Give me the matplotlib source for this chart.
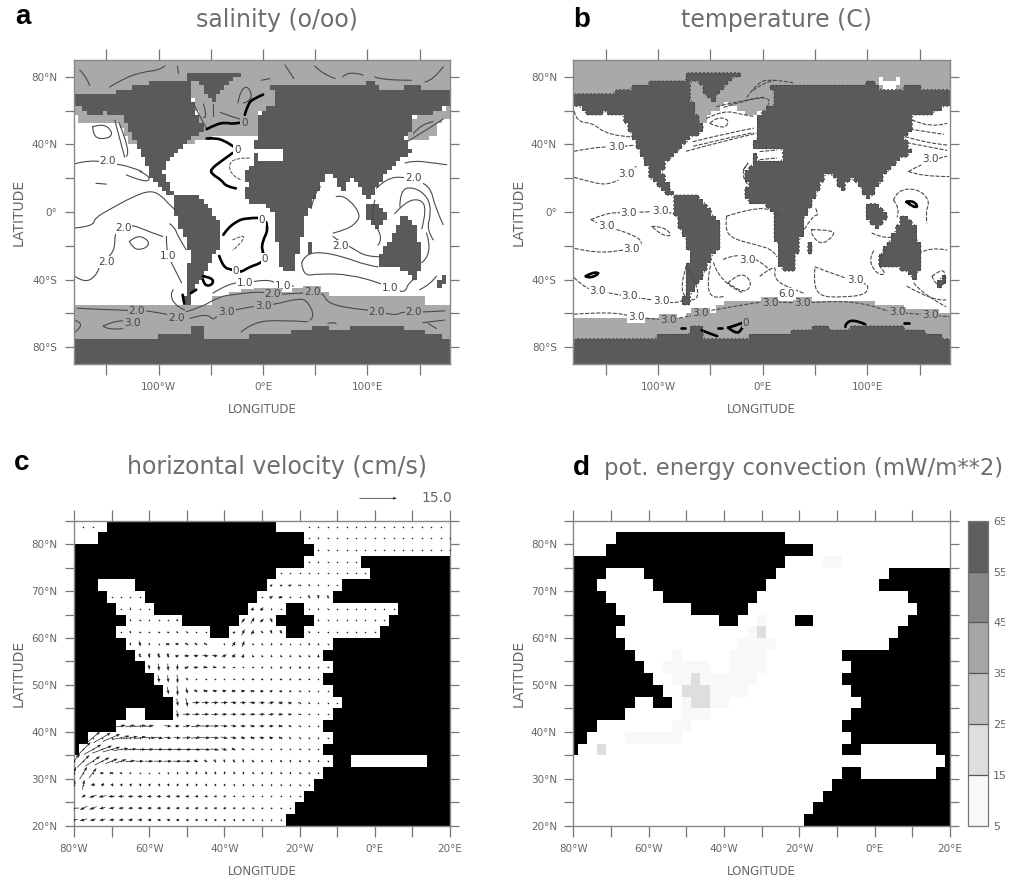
import matplotlib
matplotlib.use("Agg")
import matplotlib.pyplot as plt
import numpy as np
from matplotlib.path import Path
from matplotlib.colors import ListedColormap, BoundaryNorm
from matplotlib.patches import Rectangle, PathPatch

W, H = 1018, 881
DARK = '#5a5a5a'
ICE = '#a9a9a9'
TXT = '#666666'

# ---- world panels: outlines of the model continents (lon, lat)
north_america = [(-181,70),(-147,70),(-140,72),(-125,74),(-110,76),(-99,77),(-70,77),(-70,68),(-64,60),(-56,48.5),
                 (-75,41),(-81,35),(-93,29),(-96,24),(-84,10),(-89,9.5),(-105,18),(-121,41),(-134,57.5),(-145,57.5),
                 (-150,59.5),(-163,56.5),(-169,59.5),(-181,63)]
greenland = [(-72,82),(-24,82),(-18,79),(-30,79),(-48,65),(-52,68),(-60,76),(-72,77)]
eurasia_africa = [(3,75),(97.5,75),(97.5,77),(105,77),(113,72.5),(135,72.5),(135,75),(152,75),(152,72.5),(176,72.5),
                  (179,70),(179,62),(176,62),(160,58.5),(145,56.5),(140.5,46.5),(136,44.5),(142,36),(121,25),(99,5),
                  (97.5,10),(86,21),(77,13),(62,25),(40,-5),(33.5,-24.5),(29,-35),(17.5,-35),(11,-10.5),(13,-2.5),
                  (3,5),(-14,6),(-17.5,12),(-14,15),(-17.5,23),(-8,31),(-9.5,40.5),(-5,45.5),(-6,57.5),(11,64),(11,70)]
south_america = [(-86,10),(-61,9),(-40,-7),(-40,-18.5),(-67,-48),(-70,-55),(-76,-55),(-70,-24),(-85,0)]
indonesia = [(99,5),(110,4),(121,-3),(108.5,-10.5),(97.5,-1)]
australia = [(132.5,-2.5),(137,-3),(147,-8.5),(152,-30),(145,-40),(136,-34),(113,-33),(112,-26.5),(131,-6.5)]
madagascar = [(41.5,-17.5),(46,-17.5),(48,-25.5),(41.5,-25.5)]
new_zealand = [(168,-46),(164,-42),(174,-37),(177,-40)]
antarctica = [(-181,-90),(179,-90),(179,-75),(172,-75),(172,-72.5),(156,-72.5),(156,-70.5),(136,-70.5),(136,-68),(82,-68),
              (82,-70.5),(61,-70.5),(61,-68),(46,-68),(46,-70.5),(29,-70.5),(29,-72.5),(-13,-72.5),(-13,-75),(-59,-75),
              (-59,-68),(-69,-68),(-69,-72.5),(-99,-72.5),(-99,-75),(-181,-75)]
mediterranean = [(-9,37.5),(18.5,37.5),(18.5,30.5),(-4,30.5),(-4,34)]

arctic_ice = [(-181,90),(179,90),(179,69),(-181,69)]
a_ice = [[(-72,76),(18,76),(11,70),(11,64),(-5,58),(-5,44.5),(-48,44.5),(-54,41.5),(-75,41),(-56,48.5)],
         [(-181,63),(-134,58),(-121,41),(-128,41),(-137,53),(-175,53),(-177,57),(-181,57)],
         [(179,62),(144,56),(139,41),(166,45),(166,50),(179,57)],
         [(-181,-55),(-48,-55),(-48,-51),(-32,-51),(-32,-48),(-22,-48),(-22,-45),(54,-45),(54,-48),(62,-48),(62,-50),
          (156,-50),(156,-54),(179,-54),(179,-90),(-181,-90)]]
b_ice = [[(-72,76),(18,76),(11,70),(11,64),(-5,58),(-12,57.5),(-34.5,64.5),(-50,58.5),(-57,50.5),(-64,60),(-72,68)],
         [(-181,-62),(-73,-62),(-73,-60),(-46,-60),(-46,-55),(-38,-55),(-38,-52),(108,-52),(108,-55),(135,-55),
          (135,-57.5),(167,-57.5),(167,-60),(179,-60),(179,-90),(-181,-90)]]
b_ice_hole = [(109,80),(113,80),(116,77),(127,77),(130,80),(133,80),(128,75),(125,73),(114,73)]

# ---- salinity contours (lon, lat)
a_bold = [[(-54,49),(-45,52),(-35.5,53),(-29,52),(-21,53)],
          [(-17.5,57.5),(-14.5,64),(-9.5,67),(0,69.5)],
          [(-54,43.5),(-45,44),(-35,41.5),(-29,39),(-24,37)],
          [(-29,35),(-38,31),(-51,25),(-48,22),(-40,19),(-35,15),(-26,14)],
          [(-5,-3.5),(-16,-3.5),(-25.5,-5.5),(-35,-10.5),(-38,-13.5)],
          [(3,-6),(5,-10.5),(0,-16.5),(-1.5,-22.5),(3,-27.5),(-3,-30.5),(-13,-32.5),(-22,-36),(-30,-34),(-38,-33),(-42,-26)],
          [(-57.5,-38),(-48,-39),(-48,-43),(-56,-44),(-57.5,-40)],
          [(-77,-49),(-75.5,-54)],
          [(-69,-48),(-64,-46)]]
a_dash = [[(-13,32),(-26,32),(-33.5,28),(-29,21),(-21,19)],
          [(-29,-16.5),(-16,-12.5),(-22,-19.5),(-29,-22.5)]]
a_thin = [[(-180.5,28.5),(-166,31),(-142,28.5),(-128,27),(-116,24)],
          [(-180.5,-9.5),(-163,-8.5),(-161,-3.5),(-147,1.5),(-125,9),(-107,13),(-96,9),(-89.5,4),(-81.5,0)],
          [(-131,22),(-112,17),(-107,21),(-118,24)],
          [(-128,-17.5),(-121.5,-14),(-112,-15.5),(-108.5,-19.5),(-116.5,-22.5),(-124.5,-21.5),(-128,-17.5)],
          [(-160,17),(-150,16.5)],
          [(-180.5,-38),(-171,-42),(-160,-38),(-155,-30),(-142,-23.5),(-142,-12.5),(-137,-8.5),(-125,-7.5),(-110,-11.5),(-96,-14.5)],
          [(-89.5,-7),(-85,-8.5),(-81.5,-14.5),(-73.5,-22.5)],
          [(-92.5,-14.5),(-92.5,-24.5),(-86,-32),(-78,-42)],
          [(-163,50.5),(-163,43.5),(-147,43.5),(-144,47.5),(-153,52.5),(-163,50.5)],
          [(-142,54.5),(-132.5,32.5)],
          [(-138,53),(-126,35),(-131,33)],
          [(-175.5,84),(-170,81),(-166,75)],
          [(-147,74),(-134,79),(-115,83),(-99,84),(-94,86.5)],
          [(-82,86.5),(-81,82)],
          [(21,87),(29.5,79)],
          [(49.5,86.5),(56,82),(69,79)],
          [(76.5,80),(81.5,84),(96,81)],
          [(107,80),(113,78),(142,78)],
          [(155,77),(163,78),(172.5,86)],
          [(-1.5,78),(6.5,79)],
          [(-67,65),(-61,56.5),(-54,49.5)],
          [(-57,64),(-53,55),(-57,56)],
          [(-48,64),(-48,57)],
          [(-41,59),(-28,56),(-22,55)],
          [(-24,64.5),(-22,72),(-14,75),(-9.5,66),(-19,64.5)],
          [(144,46.5),(152,52.5),(163,53.5)],
          [(139,42),(160,50),(172.5,55)],
          [(67,-12.5),(80,-10.5),(91,-5.5),(92.5,-0.5),(83,7),(73.5,10),(70,9)],
          [(67,-14.5),(73.5,-17.5),(86,-21.5),(99,-26.5),(112,-26.5)],
          [(37,-30),(40,-25.5),(54,-23.5),(77,-26.5),(99,-31.5),(110,-32.5)],
          [(37,-30),(38,-38),(54,-36.5),(83,-37),(112,-42),(121,-45),(136,-48),(139,-42),(144,-40)],
          [(46,2),(50,13),(55,15)],
          [(136,29),(144,30.5),(163,29),(176,28)],
          [(108.5,14),(118,20),(136,21),(160,16),(164.5,3),(172.5,-7.5)],
          [(131,3),(131,13),(144,15),(158,9),(161,-0.5),(156.5,-10.5),(163,-16.5)],
          [(126,-1),(136,6),(150,8),(157,2),(152,-10)],
          [(107,7),(104,-1),(105.5,-5),(115,-16.5),(110,-19.5)],
          [(152,-30),(163,-24.5),(156.5,-12.5)],
          [(150,-46),(160,-43),(166,-38)],
          [(-48,-48),(-32,-42),(-17.5,-42),(3,-40),(13,-42),(24,-42),(29,-44)],
          [(-178,-57),(-129,-58.5),(-112,-58),(-89,-61)],
          [(-73.5,-59),(-61,-57),(-41.5,-50),(-29,-49),(-3,-47),(9.5,-49),(38,-48),(46,-47.5),(57.5,-48),(62,-54),(83,-57),
           (100.5,-58),(116.5,-60),(128,-61),(134,-59),(150,-59.5),(174,-58.5)],
          [(-70,-63),(-54,-60),(-48,-64),(-45,-62),(-35,-59),(-6.5,-55.5),(9.5,-55),(35,-51),(43,-53),(49.5,-62),(45,-64)],
          [(-21,-71),(-9.5,-65),(19,-64),(43,-65)],
          [(-153,-67.5),(-140.5,-64),(-126,-65),(-115,-67),(-128,-69),(-150,-69.5),(-153,-67.5)],
          [(-181,-64),(-169,-66),(-180,-71)],
          [(153,-65.5),(174,-64)],
          [(158,-66),(166,-69)],
          [(62,-66),(67,-65),(70,-66)],
          [(-86,-46),(-89.5,-49),(-83,-56),(-75,-58)]]
a_labels = [('2.0',-148.5,30.3),('2.0',-134,-9.5),('2.0',-149.5,-29.7),('1.0',-91,-26),('2.0',144,20),('2.0',74,-20),
            ('1.0',-17.5,-42),('1.0',19,-44),('2.0',9.5,-48.5),('2.0',47,-47.5),('1.0',122,-45),('2.0',-121,-58.5),
            ('2.0',-83,-63),('3.0',-35,-59.5),('3.0',0.5,-55.5),('3.0',-125,-66),('2.0',109,-59),('2.0',144.5,-59),
            ('0',-18,52.5),('0',-24.5,36.7),('0',-1,-5),('0',1.5,-28),('0',-26,-35)]

# ---- temperature contours (lon, lat)
b_dash = [[(-180,36),(-165.5,37.7),(-148,38.7),(-132,38.7),(-122,39.7)],
          [(-180,20.5),(-166,18),(-150,16),(-137,19),(-129,22.5),(-121,27)],
          [(-164,-4.5),(-149.5,-0.5),(-133.5,-0.5),(-95,0.5),(-82.5,-1.5),(-79,-4.5)],
          [(-164,-4.5),(-153,-8.5),(-137,-10.5),(-114,-16.5),(-119,-21.5),(-132,-22.5),(-159,-24.5),(-180,-21.5)],
          [(-106,-8.5),(-95,-8.5),(-85.5,-14.5),(-98,-13.5),(-106,-8.5)],
          [(-180,-39),(-168.5,-46),(-149.5,-47.5),(-130,-50),(-105,-52),(-82.5,-54.5),(-74.5,-52)],
          [(-180,-60.5),(-146,-59),(-124,-62),(-95,-64),(-70,-62),(-57,-59),(-37.5,-57),(-18.5,-55),(0.5,-53),(39,-54),
           (77,-52.5),(106,-55.5),(119,-59),(160,-61),(178,-62)],
          [(-180,59.5),(-178,53.5),(-162,52.5),(-153,47.5),(-133.5,44.5),(-124,44.5)],
          [(136.5,44.6),(157,40.7),(176,39.7)],
          [(138,41),(176,36.5)],
          [(141,49),(173,46)],
          [(143,54.5),(160,49.5),(176,52.5)],
          [(139.5,24),(155.5,30),(176,33)],
          [(139.5,24),(151,21),(178,21)],
          [(125,7),(128.5,13),(147.5,14),(160,7),(155.5,-0.5),(157,-6.5)],
          [(125,7),(131.5,2),(128.5,-3)],
          [(149,-24.5),(160,-20.5),(176,-22.5)],
          [(144.5,-42),(151,-48),(175,-56)],
          [(138,-44),(163.5,-53),(175,-52)],
          [(162,-38),(170,-34),(175,-36),(173,-44),(163.5,-42),(162,-38)],
          [(47,-10.5),(69.5,-10.5),(66,-15.5),(55,-19.5),(45.5,-12.5),(47,-10.5)],
          [(50,-32.5),(72.5,-38),(96.5,-42),(101.5,-44),(98,-49),(77,-50.5),(53,-50),(48.5,-40),(50,-32.5)],
          [(104.5,-12.5),(119,-16.5),(125,-14.5)],
          [(106,-23),(101,-28),(109,-37),(119,-37),(108,-30),(119,-21)],
          [(40,-10),(48,-2),(54,-2),(50,3)],
          [(-34.5,-2.5),(-12,2),(10,2),(16.5,-2.5)],
          [(-34.5,-2.5),(-36,-8.5),(-31,-15.5),(-5.5,-19.5),(10,-22.5),(13.5,-26.5)],
          [(-37.5,-28),(-25,-24.5),(-2.5,-28.5),(7,-34.5)],
          [(-33,-42),(-21.5,-35),(-9,-42),(-18.5,-49),(-33,-42)],
          [(-47,-30),(-41,-42),(-18.5,-48)],
          [(-50,-32),(-53,-40),(-50,-52),(-37.5,-50)],
          [(-2.5,-38),(13.5,-30),(10,-40),(29.5,-46),(39,-48)],
          [(-73,-32),(-79,-44),(-73,-52),(-61.5,-52),(-63,-42),(-73,-32)],
          [(-66.5,41.7),(-34.5,46.6),(-9,49.6)],
          [(-73,36),(-44,41),(-6,46.6)],
          [(-66,39),(-25,45),(-9,47)],
          [(-53.5,55.5),(-37.5,60.4),(-18.5,57.5),(-7.5,56.5)],
          [(-50.5,52.5),(-37.5,48.6),(-31,54.5),(-44,56.5),(-50.5,52.5)],
          [(-44,62.4),(-18.5,66.3),(0.6,68)],
          [(-15,68),(-6,76),(7,79),(29,76.5)],
          [(-9,72),(0.6,77),(13,78)],
          [(-37,62),(-13,67),(10,68),(4,62)],
          [(-18.5,25),(-10.5,32),(-22,22),(-14,16)],
          [(-2.5,35.8),(13.5,36.7)],
          [(-2.5,31),(13.5,32)]]
b_bold = [[(137.5,6),(143,7),(149,3),(143,3),(137.5,6)],
          [(-169,-38),(-164,-36),(-156,-35.8),(-160,-38),(-167,-39),(-169,-38)],
          [(79,-68),(79,-66),(87,-63.5),(98,-66.5)],
          [(-58.5,-70),(-50.5,-72),(-43.5,-73.5)],
          [(-33,-68.5),(-25,-67),(-17,-65),(-20,-69.5),(-25,-72.5),(-33,-68.5)],
          [(-43,-68.5),(-39,-68.5)],
          [(-78,-68.5),(-74,-68.5)],
          [(135,-66),(140,-66)]]
b_labels = [('3.0',-140,38.7),('3.0',-130,22.5),('3.0',-128,-0.5),('3.0',-98,0.5),('3.0',-149.5,-8.5),('3.0',-125,-22),
            ('3.0',-157.5,-47),('3.0',-127,-49.5),('3.0',-97,-52.5),('3.0',-121,-62),('3.0',-90.5,-64),('3.0',-59.5,-60),
            ('3.0',-15,-28.5),('3.0',88.5,-40),('3.0',7,-54),('3.0',38,-54),('3.0',128.5,-59.5),('3.0',160,-61),
            ('3.0',160,31.5),('6.0',23,-48.5),('0',-16,-65.5)]

# ---- regional panels: land as column runs, one row per 2.5 deg from 85N down to 20N
c_land = [[(4,21)],[(3,24)],[(0,25)],[(0,24),(31,40)],[(0,21),(32,40)],[(0,2),(7,20),(29,40)],[(0,3),(8,19),(28,40)],
          [(0,4),(9,18),(23,24),(35,40)],[(0,5),(12,17),(22,25),(34,40)],[(0,4),(15,16),(23,24),(33,40)],[(0,5),(28,40)],
          [(0,6),(27,40)],[(0,7),(28,40)],[(0,8),(27,40)],[(0,9),(28,40)],[(0,10),(29,40)],[(0,5),(8,10),(28,40)],
          [(0,4),(27,40)],[(0,1),(28,40)],[(0,0),(27,40)],[(28,29),(38,40)],[(27,40)],[(26,40)],[(25,40)],[(24,40)],[(23,40)]]
d_land = [[],[(5,22)],[(4,25)],[(0,22)],[(0,3),(8,21),(34,40)],[(0,2),(9,20),(33,40)],[(0,3),(10,19),(36,40)],
          [(0,4),(13,18),(37,40)],[(0,5),(16,17),(24,25),(36,40)],[(0,4),(35,40)],[(0,5),(34,40)],[(0,6),(29,40)],
          [(0,7),(30,40)],[(0,8),(29,40)],[(0,9),(30,40)],[(0,6),(9,10),(31,40)],[(0,5),(30,40)],[(0,2),(29,40)],
          [(0,1),(30,40)],[(0,0),(29,30),(39,40)],[(40,40)],[(29,30),(39,40)],[(28,40)],[(27,40)],[(26,40)],[(25,40)]]

# convection: row, first column, last column, value in mW/m**2
conv_row = [3,8,9,9,10,11,11,12,12,13,13,13,14,14,15,15,15,16,17,18,19]
conv_first = [27,20,19,20,18,17,11,10,17,11,13,14,12,15,12,13,15,12,11,6,3]
conv_last = [28,20,19,20,21,20,11,14,20,12,13,19,14,18,12,14,16,14,12,11,3]
conv_value = [8,8,8,20,8,8,8,8,8,8,18,8,18,8,8,18,8,8,8,8,20]
conv_levels = [5,15,25,35,45,55,65]
conv_colors = ['#f8f8f8','#dedede','#c0c0c0','#a6a6a6','#868686','#5e5e5e']

# velocity: row counted up from 20N, first column, then u and v in cm/s
vel_row = [0,1,2,3,4,5,6,7,8,9,10,11,12,13,14,15,16,16,16,17,17,17,18,18,18,19,19,20,21,22,23,24,25,25]
vel_col = [0,0,1,0,0,0,1,2,5,11,11,10,9,8,7,6,5,17,25,6,18,26,5,19,25,4,20,21,22,25,26,25,1,25]
vel_u = [
 [-3,-3,-2.5,-2.5,-2.2,-2,-2,-1.8,-1.6,-1.5,-1.5,-1.4,-1.3,-1.2,-1.2,-1.1,-1,-1,-1,-.8,-.7,-.6,-.5],
 [-4,-3,-3,-2.5,-2.3,-2.2,-2,-2,-1.8,-1.8,-1.6,-1.6,-1.5,-1.5,-1.4,-1.4,-1.3,-1.2,-1.1,-1,-.9,-.8,-.6,-.4],
 [-1.5,-3,-3,-2.8,-2.5,-2.3,-2.2,-2,-2,-1.8,-1.7,-1.6,-1.5,-1.4,-1.3,-1.2,-1,-.9,-.8,-.7,-.6,-.5,-.4,-.3],
 [.8,.8,-2,-1.5,-1.3,-1.2,-1.2,-1.1,-1.1,-1,-1,-1,-1,-.9,-.9,-.8,-.8,-.7,-.7,-.6,-.6,-.5,-.5,-.4,-.3,-.2],
 [1.5,3,3,1.5,1.5,1,.7,.3,.1,-.1,-.3,-.4,-.5,-.5,-.5,-.5,-.5,-.5,-.4,-.4,-.4,-.4,-.3,-.3,-.3,-.2,-.2],
 [5,5,6,6,5,4.5,4,3.5,3.5,3.5,3.5,3.5,3.5,2,.8,.5,.3,.2,.1,.1,0,0,0,-.1,-.1,-.2,-.3,-.2],
 [6,7,8,7,6,5,5,4,4,4,4,4,4,4,3.5,2.5,1.5,1,.8,.6,.5,.4,.3,.2,.1,.1],
 [6,7,7,7,6,5,5,4,3,3,3.5,4,4,3.5,3,2.5,2,2,2.2,2,1.5,.8,.3,.2,.1,0],
 [4,4,5,4,0,3,2,3,4,4,3.5,3,2.5,2.3,2.2,2.3,2.2,1.8,1.2,.8,.4,.2],
 [.5,3,3,3,3,2.5,2.5,2.5,2.5,2.5,2.5,2,1.5,1,.6,.3,.1],
 [.5,.8,3,3,3,3,2.5,2.5,2.5,2.5,2.5,2,1.5,1,.7,.3,.1,.1],
 [.5,.3,.5,1.5,2,2,2,1.8,1.8,1.5,1.3,1.2,1,.7,.5,.3,.2,.1],
 [.5,.3,.3,.3,.5,.5,.5,.5,.7,.8,.6,.5,.4,.3,.3,.3,.2,.1],
 [.4,.4,.2,-.3,1.5,2,1.8,1.5,1.2,.8,.3,.3,.2,.1,.1,.1,.1,.1,.1,.1],
 [.2,.2,.1,.1,1.5,2,2,2.5,2.5,2,1.5,.8,-.1,-.2,-.2,-.3,-.2,-.2,-.1,0],
 [.2,.3,.2,.4,1.5,1.5,1.3,1.2,1.2,0,.5,1.5,1,-.2,-.3,-.2,-.2,-.1,-.1,-.1,0,0],
 [.1,.2,.3,.5,.7,.8,.8,.5,.3,.1],
 [.5,1.2,1,.5,.5,.2],
 [.1,.1,.1,.05,.05,.05,.05,.05],
 [.1,.2,-.2,.1,.3,.8],
 [1.5,1.5,1.5,.7],
 [.3,.1,.1,.1,.1,.1,.1,.1],
 [.05,.1,.1,-.1],
 [1,1.2,-.3,.1],
 [.05,.1,.1,.05,.05,.05,.05,.05,.05,.05],
 [.05,.1,.1,.05],
 [.05,1.5,1.5,.5,.05,.3,.2,.1],
 [.8,.5,1.3,1,.3,.1,.1,.05],
 [.05,.05,.05,.1,.1,.1,.05,.05,.05,.05],
 [.1,.1,.1,.1,.05,.05],
 [.05,.1,.1,.1,.1,.05,.05,.05,.05,.05,.05,.05,.05,.05,.05],
 [.05,.1,.1,.1,.1,.1,.05,.05,.05,.05,.1,.1,.1,.1,.1,.1],
 [.05,.05],
 [.05,.1,.1,.1,.1,.1,.1,.1,.1,.1,.1,.1,.1,.05,.05]]
vel_v = [
 [-.3,-.8,-.8,-.6,-.4,-.3,-.2,-.1,0,.1,.1,.1,.1,0,0,0,0,0,0,0,0,0,0],
 [0,-1.5,-1.2,-.6,-.4,-.2,-.1,0,0,0,0,0,0,0,0,0,0,0,0,0,0,0,-.1,-.1],
 [-1,-1,-.6,-.3,-.2,-.1,0,0,0,0,-.1,-.1,-.1,-.1,-.1,-.1,-.1,-.1,-.2,-.2,-.2,-.3,-.3,-.4],
 [4,4,-.5,-.5,-.4,-.3,-.3,-.3,-.3,-.3,-.4,-.4,-.4,-.4,-.4,-.4,-.4,-.4,-.4,-.5,-.5,-.5,-.5,-.5,-.5,-.4],
 [5,5,4,.3,.2,-.1,-.2,-.2,-.3,-.4,-.6,-.8,-.9,-1,-1,-1,-1,-.9,-.9,-.8,-.8,-.8,-.8,-.8,-.7,-.6,-.5],
 [6,5,4,3,2,1.5,.5,0,0,0,0,0,0,-.5,-1,-1.3,-1.3,-1.3,-1.2,-1.1,-1,-1,-1,-1,-.9,-.9,-.8,-.4],
 [6,4,3,2,1,.5,0,.2,.1,0,0,-.1,-.2,-.3,-.5,-.7,-.7,-.6,-.6,-.5,-.5,-.5,-.5,-.6,-.6,-.5],
 [5,4,3,1.5,1,1,-.3,-.5,-.3,-.1,.3,.3,0,-.3,-.6,-.5,-.3,-.1,0,0,-.1,-.5,-.7,-.6,-.5,-.4],
 [.7,.7,.5,.3,0,-.3,.1,.6,.6,.1,0,-.2,-.2,0,0,.1,.1,0,-.1,-.1,-.3,-.4],
 [-3,0,.1,.1,.1,0,0,0,0,.1,.2,.2,.1,.1,0,-.2,-.2],
 [-3,-3.5,.2,.2,.2,.2,.1,.2,.2,.3,.5,.5,.4,.3,.2,0,-.2,-.1],
 [-3,-4,-2.5,-.3,0,.1,.2,.3,.4,.5,.8,.8,.8,.7,.6,.5,.3,.1],
 [-3,-3,-3.5,-1,-.1,.1,0,0,.1,.2,.7,.8,.9,.9,.9,.8,.7,.5],
 [-2,-3,-3,-2.5,.8,.3,-.2,-.3,.1,.2,.5,.6,.8,.9,1,1,1,1,.9,.5],
 [-1.5,-2,-2,-2,.8,.4,.2,-.2,-.3,1.2,1.5,1.5,1,1,1,1,1,1,1,1.4],
 [-1,-2.2,-.8,.2,.4,.1,-.4,-.5,-.5,0,.5,2,2.5,.7,.8,1,.8,.1,-.2,-.8,1,.3],
 [-.1,-1,.5,.1,.1,.1,-.5,-.6,-.2,0],
 [1,2.5,2,-1,-1.5,-1.5],
 [-.8,.6,.4,.05,0,0,0,0],
 [-.8,-.5,.5,.2,.1,-.7],
 [2,2.5,1.5,-2],
 [-.6,.2,0,0,0,0,.3,.2],
 [0,-.9,.2,.2],
 [1.2,1.3,.6,0],
 [-.3,-.6,-.5,0,0,0,0,0,0,0],
 [0,0,.1,0],
 [0,.8,.8,.4,0,-1.3,-1.5,-1.2],
 [1,.8,.5,.1,-.7,-.5,-.2,0],
 [0,0,0,-.2,-.3,-.2,-.1,0,0,0],
 [-.4,-.4,-.2,-.1,0,0],
 [-.4,-.3,-.3,.1,.1,0,0,0,0,0,0,0,0,0,0],
 [-.2,-.7,-.4,-.3,-.1,0,0,0,0,0,0,0,0,0,0,0],
 [0,0],
 [-.2,-.2,-.1,0,0,0,0,0,0,0,0,0,0,0,0]]


def ax_at(fig, x0, y0, x1, y1):
    # box in image pixels, y counted from the top
    return fig.add_axes([x0 / W, 1 - y1 / H, (x1 - x0) / W, (y1 - y0) / H])


def style_axis(ax, xticks, yticks, xlabels, ylabels, xlim, ylim):
    ax.set_xlim(xlim)
    ax.set_ylim(ylim)
    ax.set_xticks(xticks)
    ax.set_xticklabels(xlabels)
    ax.set_yticks(yticks)
    ax.set_yticklabels(ylabels)
    ax.tick_params(axis='x', direction='out', length=8.2, width=0.9, color='#777777', labelcolor=TXT,
                   labelsize=7.5, top=True, pad=5)
    ax.tick_params(axis='y', direction='out', length=6.8, width=0.9, color='#777777', labelcolor=TXT,
                   labelsize=7.5, right=True, pad=5)
    for s in ax.spines.values():
        s.set_color('#888888')
        s.set_linewidth(1.0)
    ax.set_xlabel('LONGITUDE', fontsize=8.5, color=TXT, labelpad=8)


def inside(poly, lon, lat):
    return Path(poly).contains_points(np.column_stack([lon.ravel(), lat.ravel()])).reshape(lon.shape)


lon_edges = np.arange(-181, 180, 4.0)
lat_edges = np.arange(-90, 90.1, 2.5)
lon_mid, lat_mid = np.meshgrid(lon_edges[:-1] + 2, lat_edges[:-1] + 1.25)


def world_field(ice, hole=None):
    field = np.zeros(lon_mid.shape)
    field[inside(arctic_ice, lon_mid, lat_mid)] = 1
    for poly in ice:
        field[inside(poly, lon_mid, lat_mid)] = 1
    if hole is not None:
        field[inside(hole, lon_mid, lat_mid)] = 0
    for poly in [north_america, greenland, eurasia_africa, south_america, indonesia, australia,
                 madagascar, new_zealand, antarctica]:
        field[inside(poly, lon_mid, lat_mid)] = 2
    field[inside(mediterranean, lon_mid, lat_mid)] = 0
    return field


def draw_lines(ax, lines, **kw):
    # read points act as bezier controls, so the contours come out round like the original
    for line in lines:
        xy = np.array(line, dtype=float)
        verts = [xy[0]]
        codes = [Path.MOVETO]
        for i in range(1, len(xy) - 1):
            end = xy[i + 1] if i == len(xy) - 2 else (xy[i] + xy[i + 1]) / 2
            verts += [xy[i], end]
            codes += [Path.CURVE3, Path.CURVE3]
        if len(xy) == 2:
            verts.append(xy[1])
            codes.append(Path.LINETO)
        ax.add_patch(PathPatch(Path(verts, codes), fc='none', capstyle='round', **kw))


def draw_labels(ax, labels, field):
    for text, lon, lat in labels:
        i = np.clip(np.searchsorted(lat_edges, lat) - 1, 0, field.shape[0] - 1)
        j = np.clip(np.searchsorted(lon_edges, lon) - 1, 0, field.shape[1] - 1)
        back = 'white' if field[i, j] == 0 else ICE
        ax.text(lon, lat, text, ha='center', va='center', fontsize=7.5, color='#444444',
                bbox=dict(fc=back, ec='none', pad=0.6), zorder=5)


def world_panel(fig, box, field):
    ax = ax_at(fig, *box)
    ax.pcolormesh(lon_edges, lat_edges, field, cmap=ListedColormap(['white', ICE, DARK]), vmin=0, vmax=2)
    style_axis(ax, np.arange(-150, 151, 50), np.arange(-80, 81, 20),
               ['', '100°W', '', '0°E', '', '100°E', ''],
               ['80°S', '', '40°S', '', '0°', '', '40°N', '', '80°N'], (-181, 179), (-90, 90))
    return ax


def run_mask(runs):
    mask = np.zeros((len(runs), 41))
    for r, row in enumerate(runs):
        for a, b in row:
            mask[r, a:b + 1] = 1
    return mask


reg_lon = -81.25 + 2.5 * np.arange(42)
reg_lat = 85 - 2.5 * np.arange(27)


def regional_panel(fig, box, mask):
    ax = ax_at(fig, *box)
    ax.pcolormesh(reg_lon, reg_lat, np.ma.masked_equal(mask, 0), cmap=ListedColormap(['black']), zorder=2)
    style_axis(ax, np.arange(-80, 21, 10), np.arange(20, 86, 5),
               ['80°W', '', '60°W', '', '40°W', '', '20°W', '', '0°E', '', '20°E'],
               ['20°N', '', '30°N', '', '40°N', '', '50°N', '', '60°N', '', '70°N', '', '80°N', ''],
               (-80, 20), (20, 85))
    return ax


fig = plt.figure(figsize=(W / 100, H / 100), dpi=100)

# a: salinity
field_a = world_field(a_ice)
ax_a = world_panel(fig, (74, 60, 450, 364), field_a)
draw_lines(ax_a, a_thin, ec='#4a4a4a', lw=0.8)
draw_lines(ax_a, a_dash, ec='#4a4a4a', lw=0.7, ls=(0, (3, 2)))
draw_lines(ax_a, a_bold, ec='black', lw=1.9)
draw_labels(ax_a, a_labels, field_a)

# b: temperature
field_b = world_field(b_ice, b_ice_hole)
ax_b = world_panel(fig, (573.3, 60, 950, 364), field_b)
ax_b.contour(lon_mid, lat_mid, (field_b == 2).astype(float), levels=[0.5], colors='#444444',
             linewidths=0.7, linestyles=[(0, (2, 2))])
draw_lines(ax_b, b_dash, ec='#4a4a4a', lw=0.8, ls=(0, (3, 2)))
draw_lines(ax_b, b_bold, ec='black', lw=1.9)
draw_labels(ax_b, b_labels, field_b)

# c: velocity
ax_c = regional_panel(fig, (74, 520.7, 450, 825.7), run_mask(c_land))
qx, qy, qu, qv = [], [], [], []
for row, col, us, vs in zip(vel_row, vel_col, vel_u, vel_v):
    for n, (u, v) in enumerate(zip(us, vs)):
        qx.append(-80 + 2.5 * (col + n))
        qy.append(21.25 + 2.5 * row)
        qu.append(u)
        qv.append(v)
qx, qy, qu, qv = map(np.array, (qx, qy, qu, qv))
show = (qu != 0) | (qv != 0)
q = ax_c.quiver(qx[show], qy[show], qu[show], qv[show], angles='uv', units='dots', scale_units='dots', scale=0.4,
                width=0.7, headwidth=4, headlength=6, headaxislength=5.5, minlength=0.5, pivot='mid',
                color='#222222', zorder=3)
ax_c.scatter(qx[show], qy[show], s=1.2, color='#222222', linewidths=0, zorder=3)
ax_c.quiverkey(q, 397 / W, 1 - 498.3 / H, 15, '15.0', labelpos='E', coordinates='figure', labelsep=0.24,
               labelcolor=TXT, fontproperties={'size': 10})

# d: convection
ax_d = regional_panel(fig, (573.3, 520.7, 950, 825.7), run_mask(d_land))
conv = np.zeros((26, 41))
for r, a, b, v in zip(conv_row, conv_first, conv_last, conv_value):
    conv[r, a:b + 1] = v
norm = BoundaryNorm(conv_levels, len(conv_colors))
cmap = ListedColormap(conv_colors)
cmap.set_under('white')
mesh = ax_d.pcolormesh(reg_lon, reg_lat, conv, cmap=cmap, norm=norm, zorder=1)
cax = ax_at(fig, 968.3, 520.7, 987.7, 825.7)
cb = fig.colorbar(mesh, cax=cax, ticks=conv_levels, drawedges=True, extend='neither')
cb.ax.tick_params(length=0, labelsize=8, labelcolor=TXT, pad=4)
cb.outline.set_edgecolor('#777777')
cb.outline.set_linewidth(0.9)
cb.dividers.set_color('#555555')
cb.dividers.set_linewidth(0.9)

# titles, letters and side labels sit at fixed places around the panels
titles = [('salinity (o/oo)', 277, 20, 17), ('temperature (C)', 776, 20, 17),
          ('horizontal velocity (cm/s)', 277, 467, 17), ('pot. energy convection (mW/m**2)', 804, 468, 16.4)]
for text, x, y, size in titles:
    fig.text(x / W, 1 - y / H, text, ha='center', va='center', fontsize=size, color='#6e6e6e')
letters = [('a', 15, 24), ('b', 573, 27), ('c', 14, 470), ('d', 573, 475)]
for text, x, y in letters:
    fig.text(x / W, 1 - y / H, text, ha='left', va='baseline', fontsize=20, color='black', fontweight='bold',
             family='Liberation Sans')
for x, y in [(19, 212), (519, 212), (19, 673), (519, 673)]:
    fig.text(x / W, 1 - y / H, 'LATITUDE', rotation=90, ha='center', va='center', fontsize=10, color=TXT)

# the source picture is cut off right of x=1005
fig.add_artist(Rectangle((1005 / W, 0), 13 / W, 1, transform=fig.transFigure, fc='white', ec='none', zorder=20))

fig.savefig('out.png', dpi=100)
